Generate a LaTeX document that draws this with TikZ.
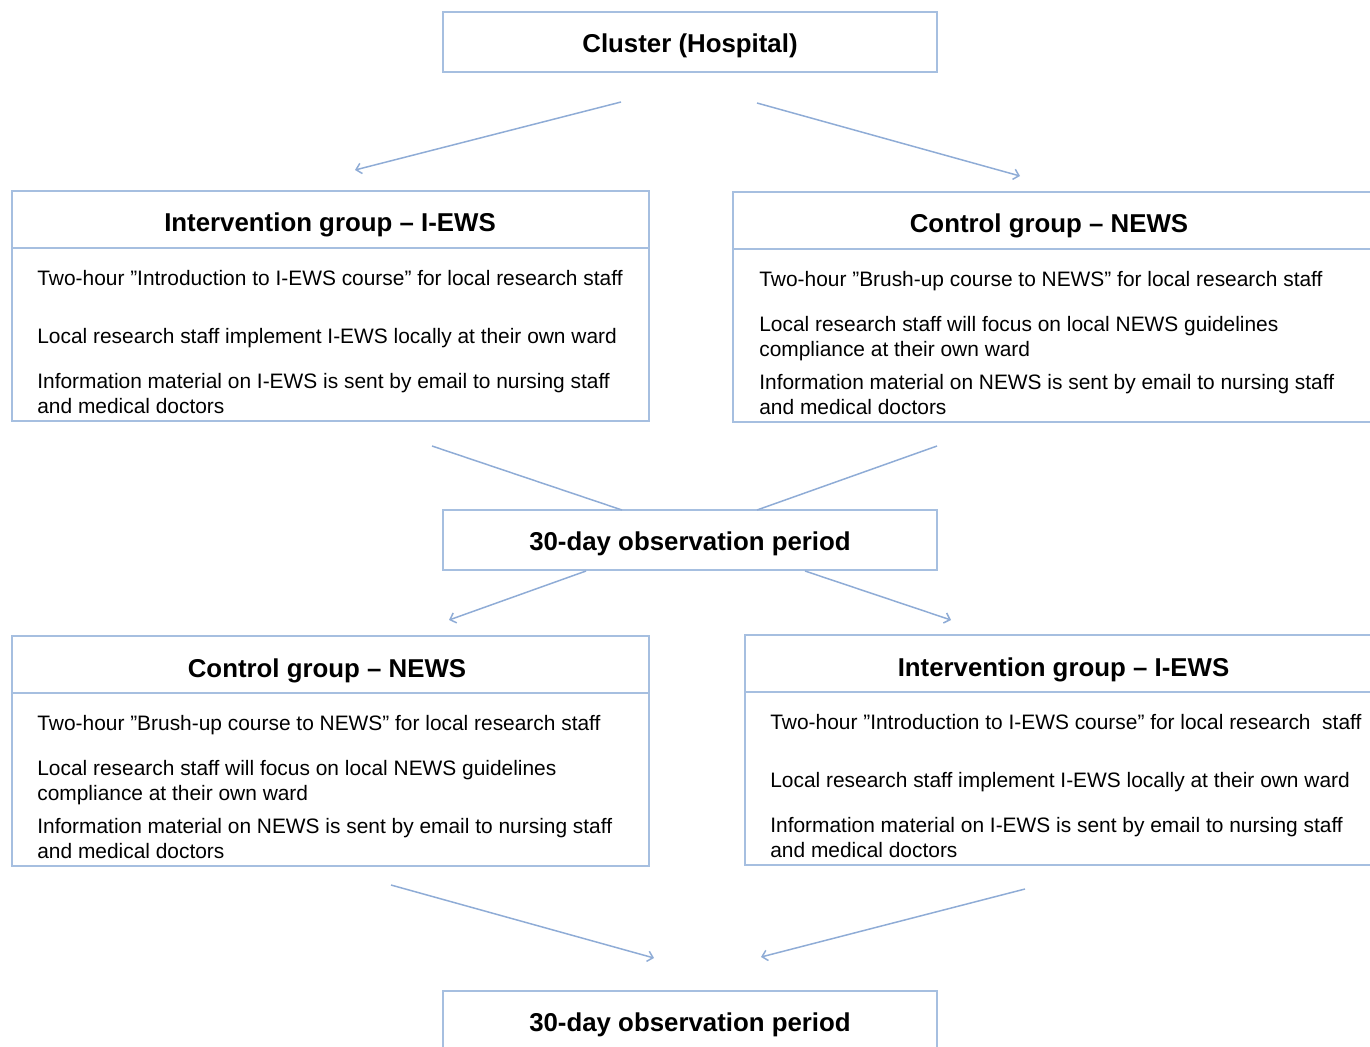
\documentclass[tikz,border=0pt]{standalone}
\usepackage{fontspec}
\setmainfont{Liberation Sans}
\usetikzlibrary{positioning,calc,arrows.meta}
\definecolor{boxblue}{RGB}{166,191,224}
\definecolor{arrblue}{RGB}{143,172,214}
\tikzset{
  box/.style={draw=boxblue, line width=1.1pt, rectangle, inner sep=0pt},
  divider/.style={draw=boxblue, line width=1.1pt},
  title/.style={font=\fontsize{14.7}{17}\selectfont\bfseries, inner sep=0pt, text height=14.5pt, text depth=3.1pt},
  item/.style={font=\fontsize{11.9}{14}\selectfont, inner sep=0pt, anchor=west, text height=10.7pt, text depth=2.5pt},
  arr/.style={draw=arrblue, line width=0.85pt, -{Straight Barb[length=3pt,width=6pt]}},
  link/.style={draw=arrblue, line width=0.85pt},
}
\begin{document}
\begin{tikzpicture}[x=0.02cm,y=-0.02cm]
	\useasboundingbox (0,0) rectangle (1370,1046);
	\clip (0,0) rectangle (1370,1046);
	% observation boxes
	\node (clu)  [box, title, minimum width=9.88cm, minimum height=1.2cm] at (690,42) {Cluster (Hospital)};
	\node (obsA) [box, title, minimum width=9.88cm, minimum height=1.2cm] at (690,540) {30-day observation period};
	\node (obsB) [box, title, minimum width=9.88cm, minimum height=1.2cm] at (690,1021) {30-day observation period};
	% group boxes
	\node (igA) [box, minimum width=12.74cm, minimum height=4.6cm] at (330.5,306) {};
	\node (cgA) [box, minimum width=13.14cm, minimum height=4.6cm] at (1061.5,307) {};
	\node (cgB) [box, minimum width=12.74cm, minimum height=4.6cm] at (330.5,751) {};
	\node (igB) [box, minimum width=13.10cm, minimum height=4.6cm] at (1072.5,750) {};
	\draw [divider] (igA.west |- 0,248) -- (igA.east |- 0,248);
	\draw [divider] (cgA.west |- 0,249) -- (cgA.east |- 0,249);
	\draw [divider] (cgB.west |- 0,693) -- (cgB.east |- 0,693);
	\draw [divider] (igB.west |- 0,692) -- (igB.east |- 0,692);
	% titles
	\node (igA-t) [title] at (330,221)  {Intervention group -- I-EWS};
	\node (cgA-t) [title] at (1049,222) {Control group -- NEWS};
	\node (cgB-t) [title] at (327,667)  {Control group -- NEWS};
	\node (igB-t) [title] at (1063.5,666) {Intervention group -- I-EWS};
	% intervention, first period
	\node (igA-1)  [item] at (37,278) {Two-hour ”Introduction to I-EWS course” for local research staff};
	\node (igA-2)  [item] at (37,336) {Local research staff implement I-EWS locally at their own ward};
	\node (igA-3a) [item] at (37,381) {Information material on I-EWS is sent by email to nursing staff};
	\node (igA-3b) [item] at (37,406) {and medical doctors};
	% control, first period
	\node (cgA-1)  [item] at (759,279) {Two-hour ”Brush-up course to NEWS” for local research staff};
	\node (cgA-2a) [item] at (759,324) {Local research staff will focus on local NEWS guidelines};
	\node (cgA-2b) [item] at (759,349) {compliance at their own ward};
	\node (cgA-3a) [item] at (759,382) {Information material on NEWS is sent by email to nursing staff};
	\node (cgA-3b) [item] at (759,407) {and medical doctors};
	% control, second period
	\node (cgB-1)  [item] at (37,723) {Two-hour ”Brush-up course to NEWS” for local research staff};
	\node (cgB-2a) [item] at (37,768) {Local research staff will focus on local NEWS guidelines};
	\node (cgB-2b) [item] at (37,793) {compliance at their own ward};
	\node (cgB-3a) [item] at (37,826) {Information material on NEWS is sent by email to nursing staff};
	\node (cgB-3b) [item] at (37,851) {and medical doctors};
	% intervention, second period
	\node (igB-1)  [item] at (770,722) {Two-hour ”Introduction to I-EWS course” for local research\ \ staff};
	\node (igB-2)  [item] at (770,780) {Local research staff implement I-EWS locally at their own ward};
	\node (igB-3a) [item] at (770,825) {Information material on I-EWS is sent by email to nursing staff};
	\node (igB-3b) [item] at (770,850) {and medical doctors};
	% connector ends
	\coordinate (clu-l)  at (621,102);
	\coordinate (clu-r)  at (757,103);
	\coordinate (igA-in) at (355,170);
	\coordinate (cgA-in) at (1020,176);
	\coordinate (igA-out) at (432,446);
	\coordinate (cgA-out) at (937,446);
	\coordinate (obsA-l) at (622,510);
	\coordinate (obsA-r) at (757,510);
	\coordinate (obsA-bl) at (586,571);
	\coordinate (obsA-br) at (805,571);
	\coordinate (cgB-in) at (449,620);
	\coordinate (igB-in) at (951,620);
	\coordinate (cgB-out) at (391,885);
	\coordinate (igB-out) at (1025,889);
	\coordinate (obsB-l) at (654,958);
	\coordinate (obsB-r) at (761,957);
	% connectors
	\draw [arr]  (clu-l) -- (igA-in);
	\draw [arr]  (clu-r) -- (cgA-in);
	\draw [link] (igA-out) -- (obsA-l);
	\draw [link] (cgA-out) -- (obsA-r);
	\draw [arr]  (obsA-bl) -- (cgB-in);
	\draw [arr]  (obsA-br) -- (igB-in);
	\draw [arr]  (cgB-out) -- (obsB-l);
	\draw [arr]  (igB-out) -- (obsB-r);
\end{tikzpicture}
\end{document}
